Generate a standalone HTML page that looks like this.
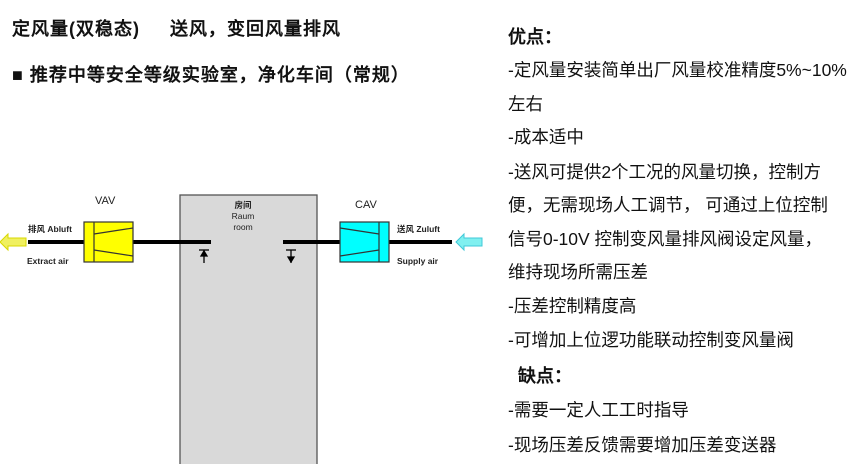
<!DOCTYPE html>
<html><head><meta charset="utf-8"><style>
body{margin:0;width:865px;height:464px;background:#fff;position:relative;overflow:hidden;font-family:"Liberation Sans","Noto Sans CJK SC",sans-serif;}
.t{position:absolute;white-space:nowrap;color:#111;font-family:"Liberation Sans","WenQuanYi Zen Hei",sans-serif;}
.r{position:absolute;left:508px;white-space:nowrap;font-size:17.5px;font-family:"Liberation Sans","WenQuanYi Zen Hei",sans-serif;color:#111;line-height:20px;}
</style></head><body>
<div class="t" style="left:12px;top:15px;font-size:18px;font-weight:bold;letter-spacing:1px;">定风量(双稳态)&nbsp;&nbsp;&nbsp;&nbsp;&nbsp;送风，变回风量排风</div>
<div class="t" style="left:12px;top:61px;font-size:18px;font-weight:bold;letter-spacing:1px;">■ 推荐中等安全等级实验室，净化车间（常规）</div>
<svg style="position:absolute;left:0;top:0" width="500" height="464">
<rect x="180" y="195" width="137" height="275" fill="#d9d9d9" stroke="#555" stroke-width="1.3"/>
<g stroke="#000" stroke-width="4">
<line x1="28" y1="242" x2="84" y2="242"/><line x1="133" y1="242" x2="211" y2="242"/>
<line x1="283" y1="242" x2="340" y2="242"/><line x1="389" y1="242" x2="452" y2="242"/>
</g>
<rect x="84" y="222" width="49" height="40" fill="#ffff00" stroke="#333" stroke-width="1.2"/>
<line x1="94" y1="222" x2="94" y2="262" stroke="#333" stroke-width="1.2"/>
<polyline points="94,234 133,228" fill="none" stroke="#333" stroke-width="1.2"/>
<polyline points="94,250 133,256" fill="none" stroke="#333" stroke-width="1.2"/>
<rect x="340" y="222" width="49" height="40" fill="#00ffff" stroke="#333" stroke-width="1.2"/>
<line x1="379" y1="222" x2="379" y2="262" stroke="#333" stroke-width="1.2"/>
<polyline points="340,228 379,234" fill="none" stroke="#333" stroke-width="1.2"/>
<polyline points="340,256 379,250" fill="none" stroke="#333" stroke-width="1.2"/>
<g stroke="#000" stroke-width="1.3" fill="#000">
<line x1="199" y1="250" x2="209" y2="250"/><line x1="204" y1="250" x2="204" y2="263"/><polygon points="201,256 207,256 204,251"/>
<line x1="286" y1="250" x2="296" y2="250"/><line x1="291" y1="250" x2="291" y2="263"/><polygon points="288,257 294,257 291,262"/>
</g>
<polygon points="0,242 8,234 8,238 26,238 26,246 8,246 8,250" fill="#f0f060" stroke="#d8d800" stroke-width="1"/>
<polygon points="456,242 464,234 464,238 482,238 482,246 464,246 464,250" fill="#80f0f0" stroke="#40c8d8" stroke-width="1"/>
<g font-family="Liberation Sans,Noto Sans CJK SC,sans-serif" fill="#222">
<text x="95" y="204" font-size="11">VAV</text>
<text x="355" y="208" font-size="11">CAV</text>
<text x="28" y="232" font-size="8.5" font-weight="bold">排风 Abluft</text>
<text x="27" y="264" font-size="8.5" font-weight="bold">Extract air</text>
<text x="397" y="232" font-size="8.5" font-weight="bold">送风 Zuluft</text>
<text x="397" y="264" font-size="8.5" font-weight="bold">Supply air</text>
<text x="243" y="208" font-size="8.5" font-weight="bold" text-anchor="middle">房间</text>
<text x="243" y="219" font-size="8.5" text-anchor="middle">Raum</text>
<text x="243" y="230" font-size="8.5" text-anchor="middle">room</text>
</g>
</svg>
<div class="r" style="top:27px;font-weight:bold;font-size:18px;">优点：</div>
<div class="r" style="top:60px;">-定风量安装简单出厂风量校准精度5%~10%</div>
<div class="r" style="top:94px;">左右</div>
<div class="r" style="top:127px;">-成本适中</div>
<div class="r" style="top:162px;">-送风可提供2个工况的风量切换，控制方</div>
<div class="r" style="top:195px;">便，无需现场人工调节， 可通过上位控制</div>
<div class="r" style="top:229px;">信号0-10V 控制变风量排风阀设定风量，</div>
<div class="r" style="top:262px;">维持现场所需压差</div>
<div class="r" style="top:296px;">-压差控制精度高</div>
<div class="r" style="top:330px;">-可增加上位逻功能联动控制变风量阀</div>
<div class="r" style="top:366px;left:518px;font-weight:bold;font-size:18px;">缺点：</div>
<div class="r" style="top:400px;">-需要一定人工工时指导</div>
<div class="r" style="top:435px;">-现场压差反馈需要增加压差变送器</div>
</body></html>
